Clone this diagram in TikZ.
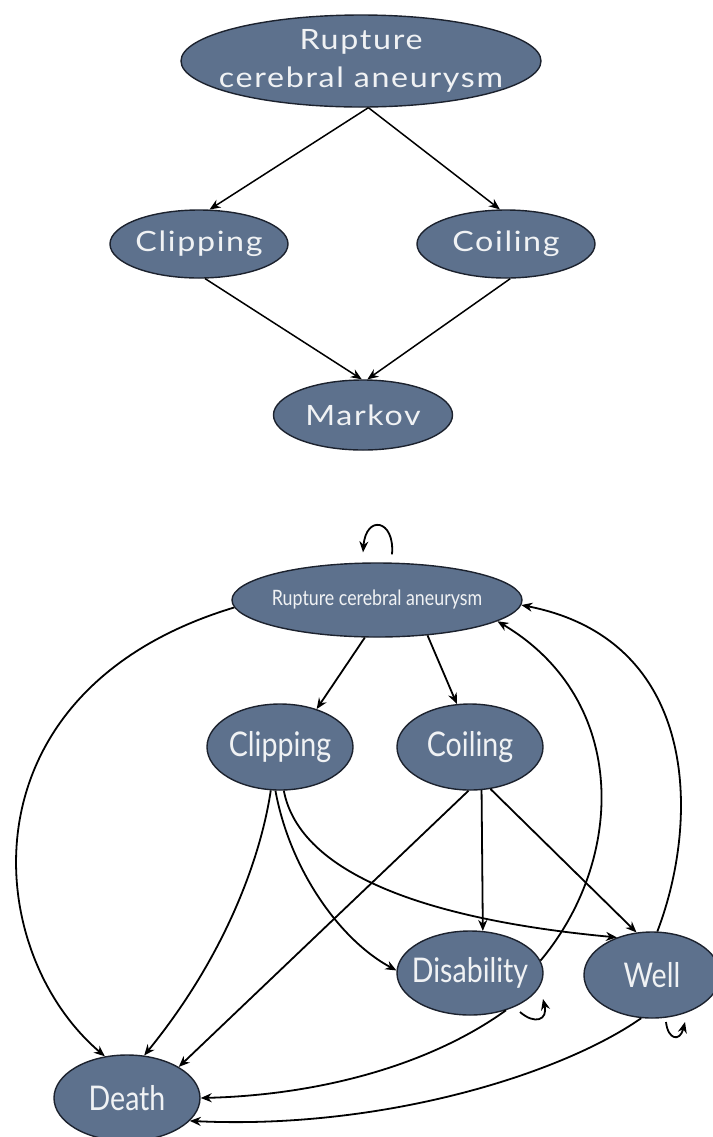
\documentclass[tikz,border=0pt]{standalone}
\usepackage{fontspec}
\setmainfont{Lato}
\newfontfamily\widefont[FakeStretch=1.15,LetterSpace=6]{Lato}
\newfontfamily\condfont[FakeStretch=0.84]{Lato}
\usetikzlibrary{arrows.meta,calc,shapes.geometric}
\definecolor{nodefill}{RGB}{93,113,141}
\definecolor{nodeline}{RGB}{28,34,46}
\definecolor{nodetext}{RGB}{240,242,244}
\newcommand{\zw}[1]{\makebox[0pt][c]{#1}}
\begin{document}
\begin{tikzpicture}[x=0.5pt,y=-0.5pt,
  state/.style={ellipse, draw=nodeline, line width=0.7pt, fill=nodefill, text=nodetext, inner sep=0pt, align=center},
  topfont/.style={font=\widefont\fontsize{14}{18}\selectfont},
  botfont/.style={font=\condfont\fontsize{17}{19}\selectfont},
  arr/.style={-{Stealth[length=5.5pt,width=4.5pt]}, line width=0.75pt, black},
  barr/.style={arr, line width=0.9pt}]
\useasboundingbox (0,0) rectangle (713,1137);
% upper diagram
\node[state, topfont, minimum width=180pt, minimum height=46pt, text height=0pt, text depth=0pt] (R1) at (361,61) {\zw{\raisebox{-3.5pt}{\begin{tabular}{@{}c@{}}Rupture\\[1pt]cerebral aneurysm\end{tabular}}}};
\node[state, topfont, minimum width=89pt, minimum height=34pt] (C1) at (199,244) {\zw{Clipping}};
\node[state, topfont, minimum width=89pt, minimum height=34pt] (Co1) at (506,244) {\zw{Coiling}};
\node[state, topfont, minimum width=89.5pt, minimum height=35pt] (M1) at (363,415) {\zw{Markov}};
\draw[arr] (R1.279) -- (C1.73);
\draw[arr] (R1.279) -- (Co1.100);
\draw[arr] (C1.280) -- (M1.92);
\draw[arr] (Co1.277) -- (M1.83);
% lower diagram
\node[state, font=\condfont\fontsize{10.6}{12}\selectfont, minimum width=145pt, minimum height=37pt] (R2) at (377,600) {\zw{Rupture cerebral aneurysm}};
\node[state, botfont, minimum width=73pt, minimum height=43pt] (C2) at (280,747) {\zw{Clipping}};
\node[state, botfont, minimum width=73pt, minimum height=43pt] (Co2) at (470,747) {\zw{Coiling}};
\node[state, botfont, minimum width=73pt, minimum height=42pt] (D2) at (470,973) {\zw{Disability}};
\node[state, botfont, minimum width=68pt, minimum height=43pt] (W2) at (652,975) {\zw{Well}};
\node[state, botfont, minimum width=73pt, minimum height=43pt] (De2) at (127,1098) {\zw{Death}};
\draw[barr] ($(R2.north)+(15,-8)$) .. controls ($(R2.north)+(18,-43)$) and ($(R2.north)+(-11,-48)$) .. ($(R2.north)+(-14,-10)$);
\draw[barr] (R2.252) -- (C2.46);
\draw[barr] (R2.325) -- (Co2.107);
\draw[barr] (R2.183) .. controls (-40,690) and (-20,950) .. (De2.118);
\draw[barr] (C2.258) .. controls (262,850) and (230,950) .. (De2.68);
\draw[barr] (C2.264) .. controls (290,870) and (340,940) .. (D2.178);
\draw[barr] (C2.275) .. controls (300,875) and (430,920) .. (W2.133);
\draw[barr] (Co2.268) -- (De2.31);
\draw[barr] (Co2.285) -- (D2.73);
\draw[barr] (Co2.296) -- (W2.110);
\draw[barr] (D2.10) .. controls (625,860) and (630,700) .. (R2.350);
\draw[barr] (W2.83) .. controls (700,820) and (700,640) .. (R2.358);
\draw[barr] (D2.314) .. controls (430,1065) and (320,1095) .. (De2.0);
\draw[barr] (W2.256) .. controls (560,1075) and (380,1130) .. (De2.340);
\draw[barr] ($(D2.center)+(50,39)$) .. controls ($(D2.center)+(65,52)$) and ($(D2.center)+(78,47)$) .. ($(D2.center)+(73,26)$);
\draw[barr] ($(W2.center)+(14,47)$) .. controls ($(W2.center)+(16,65)$) and ($(W2.center)+(28,67)$) .. ($(W2.center)+(33,47)$);
\end{tikzpicture}
\end{document}
